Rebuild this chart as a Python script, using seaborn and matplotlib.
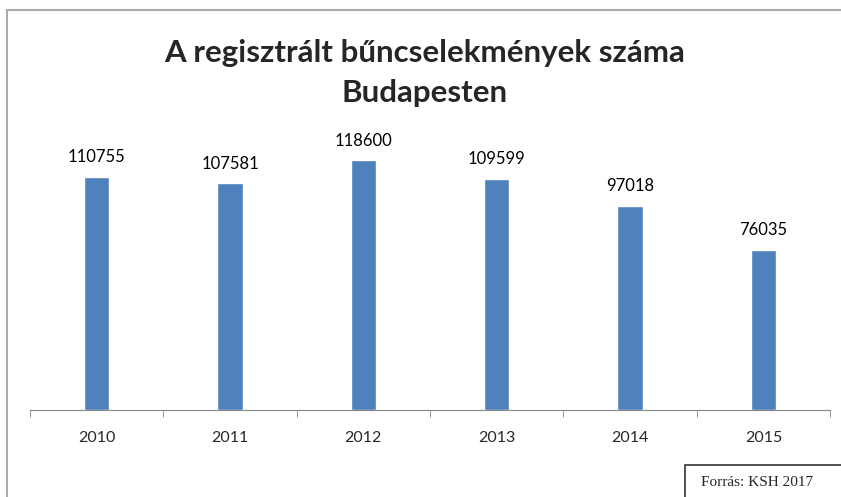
import matplotlib
matplotlib.use("Agg")
import matplotlib.pyplot as plt
import seaborn as sns
import pandas as pd
from matplotlib.lines import Line2D
from matplotlib.patches import Rectangle

years = ["2010", "2011", "2012", "2013", "2014", "2015"]
counts = [110755, 107581, 118600, 109599, 97018, 76035]
title = "A regisztrált bűncselekmények száma\nBudapesten"
source = "Forrás: KSH 2017"

df = pd.DataFrame({"Év": years, "Szám": counts})

sns.set_style("white")
plt.rcParams["font.family"] = ["Lato", "DejaVu Sans"]

fig = plt.figure(figsize=(8.41, 4.97), dpi=100)
ax = fig.add_axes([30 / 841, 87 / 497, 800 / 841, 295 / 497])

sns.barplot(data=df, x="Év", y="Szám", color="#4f81bd", width=0.19,
            saturation=1, ax=ax)
ax.set_ylim(0, 140000)
ax.set_xlim(-0.5, len(years) - 0.5)

for i, v in enumerate(counts):
    ax.text(i, v + 5500, str(v), ha="center", va="bottom", fontsize=12,
            color="#000000")

for s in ["top", "right", "left"]:
    ax.spines[s].set_visible(False)
ax.spines["bottom"].set_color("#888888")
ax.set_yticks([])
ax.set_xlabel("")
ax.set_ylabel("")
ax.set_xticks([x - 0.5 for x in range(len(years) + 1)], minor=True)
ax.tick_params(axis="x", which="minor", length=5, color="#888888", bottom=True)
ax.tick_params(axis="x", which="major", length=0, labelsize=11.5, pad=15)

fig.text(0.505, 0.853, title, ha="center", va="center", fontsize=22.5,
         fontweight="bold", linespacing=1.55)

# chart frame
fig.add_artist(Line2D([7 / 841, 7 / 841], [0, 1 - 10 / 497], color="#aaaaaa", lw=1.5))
fig.add_artist(Line2D([7 / 841, 1], [1 - 10 / 497, 1 - 10 / 497], color="#aaaaaa", lw=1.5))

# source box
fig.add_artist(Rectangle((685 / 841, -5 / 497), 170 / 841, 37 / 497,
                         transform=fig.transFigure, fc="white", ec="#333333", lw=1.2))
fig.text(757 / 841, 14 / 497, source, ha="center", va="center", fontsize=11,
         family="Liberation Serif")

fig.savefig("out.png", dpi=100)
